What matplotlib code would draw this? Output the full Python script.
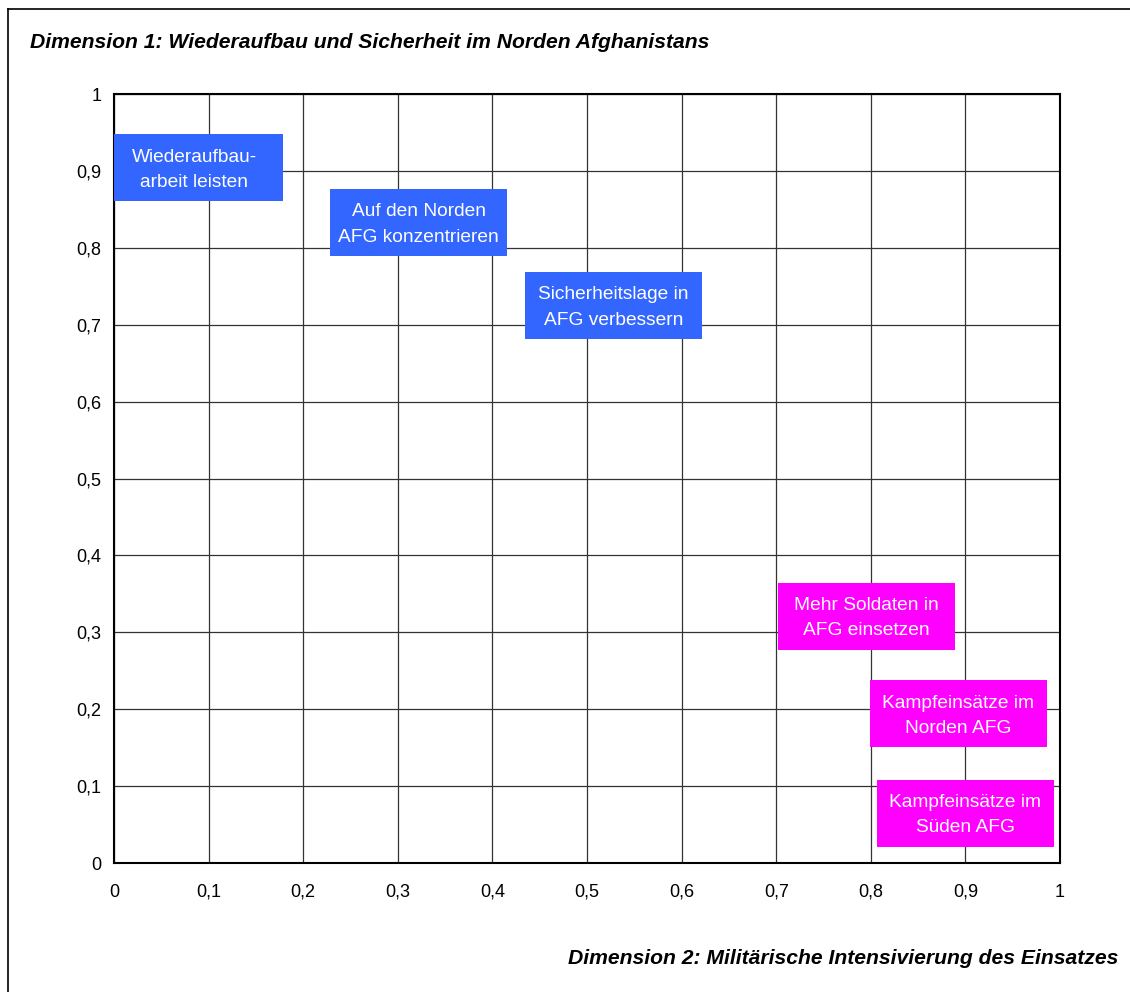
import numpy as np
import matplotlib
matplotlib.use('Agg')
from matplotlib import pyplot as plt
from matplotlib.patches import Rectangle
from matplotlib.lines import Line2D

plt.rcParams['font.family'] = ['Liberation Sans', 'DejaVu Sans']

labels = ['Wiederaufbau-\narbeit leisten', 'Auf den Norden\nAFG konzentrieren',
          'Sicherheitslage in\nAFG verbessern', 'Mehr Soldaten in\nAFG einsetzen',
          'Kampfeinsätze im\nNorden AFG', 'Kampfeinsätze im\nSüden AFG']
x = [0.085, 0.322, 0.528, 0.795, 0.8925, 0.900]
y = [0.904, 0.833, 0.725, 0.321, 0.194, 0.065]
groups = ['aufbau', 'aufbau', 'aufbau', 'militaer', 'militaer', 'militaer']
colors = {'aufbau': '#3366FF', 'militaer': '#FF00FF'}
ticks = np.arange(0, 11) / 10
ticklabels = ['0' if t == 0 else ('1' if t == 1 else ('%.1f' % t).replace('.', ',')) for t in ticks]

fig = plt.figure(figsize=(11.3, 9.92), dpi=100)
ax = fig.add_axes([114 / 1130, 1 - 863 / 992, 946 / 1130, 769 / 992])

ax.set_xlim(0, 1)
ax.set_ylim(0, 1)
ax.set_xticks(ticks)
ax.set_yticks(ticks)
ax.set_xticklabels(ticklabels, fontsize=13)
ax.set_yticklabels(ticklabels, fontsize=13)
ax.tick_params(length=0)
ax.tick_params(axis='x', pad=15)
ax.tick_params(axis='y', pad=9)
ax.grid(True, color='#333333', linewidth=0.9)
for s in ax.spines.values():
    s.set_linewidth(1.5)

# box size in data units (about 177 x 67 px)
bw = 177 / 946
bh = 67 / 769
for xi, yi, lab, g in zip(x, y, labels, groups):
    ax.add_patch(Rectangle((xi - bw / 2, yi - bh / 2), bw, bh,
                           facecolor=colors[g], edgecolor='none', zorder=3))
    ax.annotate(lab, (xi, yi), xytext=(0, -1.5), textcoords='offset points',
                ha='center', va='center', color='white',
                fontsize=13.8, linespacing=1.65, zorder=4)

fig.text(30 / 1130, 1 - 43 / 992, 'Dimension 1: Wiederaufbau und Sicherheit im Norden Afghanistans',
         fontsize=15.2, fontweight='bold', fontstyle='italic', ha='left', va='center')
fig.text(1118 / 1130, 1 - 959 / 992, 'Dimension 2: Militärische Intensivierung des Einsatzes',
         fontsize=15.2, fontweight='bold', fontstyle='italic', ha='right', va='center')

# outer frame (left and top edges visible)
fig.add_artist(Line2D([8 / 1130, 8 / 1130], [0, 1 - 9 / 992], color='black', linewidth=1.2,
                      transform=fig.transFigure))
fig.add_artist(Line2D([8 / 1130, 1], [1 - 9 / 992, 1 - 9 / 992], color='black', linewidth=1.2,
                      transform=fig.transFigure))

plt.savefig('out.png', dpi=100)
